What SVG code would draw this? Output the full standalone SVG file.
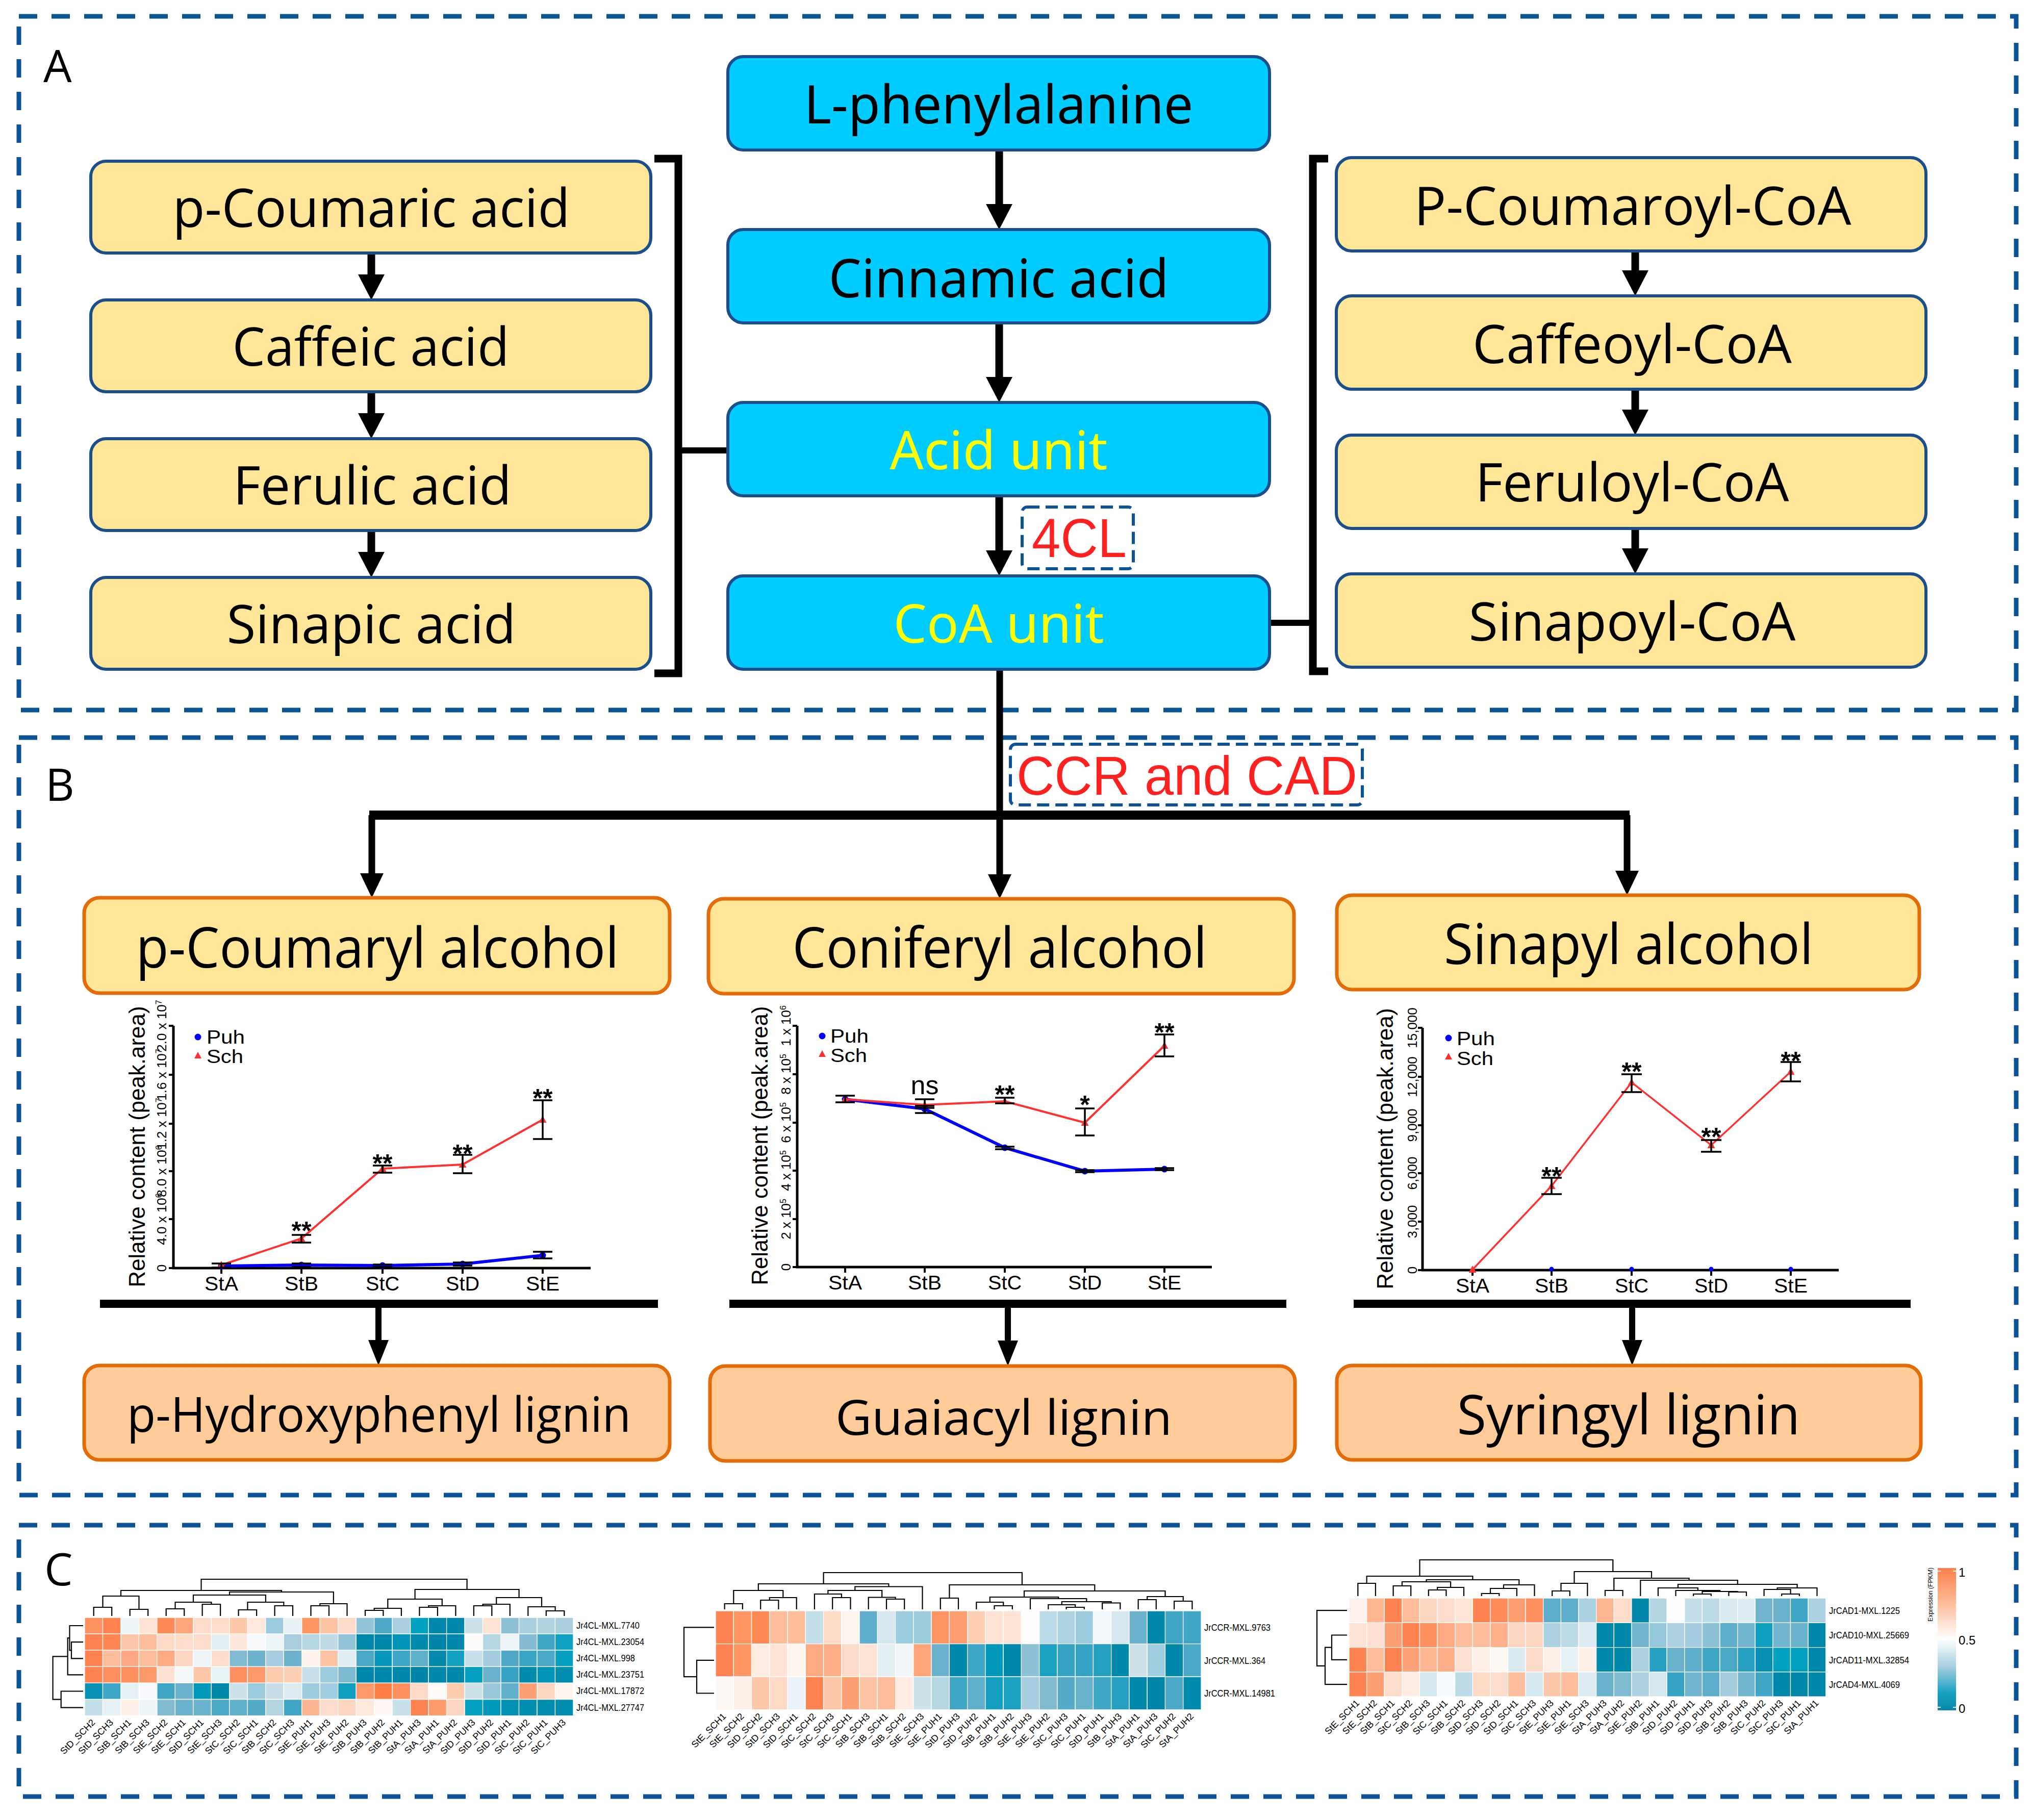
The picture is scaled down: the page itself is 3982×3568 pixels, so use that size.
<svg xmlns="http://www.w3.org/2000/svg" width="3982" height="3568" viewBox="0 0 3982 3568">
<style>
.frame{fill:none;stroke:#0b5394;stroke-width:9;stroke-dasharray:36 28}
.lab{fill:none;stroke:#0b5394;stroke-width:6;stroke-dasharray:24 12}
.yb{fill:#ffe699;stroke:#1a4f8b;stroke-width:6}
.cb{fill:#00ccff;stroke:#1a4f8b;stroke-width:6}
.ob{fill:#ffe699;stroke:#e36c09;stroke-width:7}
.pb{fill:#ffcc99;stroke:#e36c09;stroke-width:7}
.tb{font-family:"Open Sans","DejaVu Sans",sans-serif;text-anchor:middle;fill:#000}
.tc{font-family:"Noto Sans","Open Sans",sans-serif;font-size:104px;text-anchor:middle;fill:#000}
.pl{font-family:"Open Sans",sans-serif;font-size:88px;fill:#000}
.red{font-family:"Liberation Sans",Arial,sans-serif;font-size:108px;text-anchor:middle;fill:#ff2020}
.ln{stroke:#000;fill:none}
.ax{stroke:#000;stroke-width:5;fill:none}
.tk{stroke:#000;stroke-width:4;fill:none}
.eb{stroke:#000;stroke-width:3.5;fill:none}
.sch{stroke:#ff3030;stroke-width:4;fill:none;marker:url(#mTri)}
.puh{stroke:#0000ff;stroke-width:6;fill:none;marker:url(#mDot)}
.xl{font-family:"Liberation Sans",Arial,sans-serif;font-size:38px;text-anchor:middle;fill:#000}
.yl{font-family:"Liberation Sans",Arial,sans-serif;font-size:26px;text-anchor:middle;fill:#000}
.yt{font-family:"Liberation Sans",Arial,sans-serif;font-size:44px;text-anchor:middle;fill:#000}
.lg{font-family:"Liberation Sans",Arial,sans-serif;font-size:37px;fill:#000}
.st{font-family:"Liberation Sans",Arial,sans-serif;font-size:50px;font-weight:bold;text-anchor:middle;fill:#000}
.ns{font-family:"Liberation Sans",Arial,sans-serif;font-size:52px;text-anchor:middle;fill:#000}
.hm rect{stroke:#fff;stroke-width:1.3;vector-effect:non-scaling-stroke}
.dg{stroke:#000;stroke-width:2.2;fill:none}
.rl{font-family:"Liberation Sans",Arial,sans-serif;font-size:18px;fill:#000}
.cl{font-family:"Liberation Sans",Arial,sans-serif;font-size:18px;text-anchor:end;fill:#000}
</style>
<defs>
<marker id="ahA" markerUnits="userSpaceOnUse" viewBox="0 0 50 52" markerWidth="50" markerHeight="52" refX="0" refY="26" orient="auto"><path d="M0,0 L50,26 L0,52 Z" fill="#000"/></marker>
<marker id="ahB" markerUnits="userSpaceOnUse" viewBox="0 0 48 46" markerWidth="48" markerHeight="46" refX="0" refY="23" orient="auto"><path d="M0,0 L48,23 L0,46 Z" fill="#000"/></marker>
<marker id="ahC" markerUnits="userSpaceOnUse" viewBox="0 0 50 40" markerWidth="50" markerHeight="40" refX="0" refY="20" orient="auto"><path d="M0,0 L50,20 L0,40 Z" fill="#000"/></marker>
<marker id="mTri" markerUnits="userSpaceOnUse" viewBox="-9 -9 18 18" markerWidth="18" markerHeight="18" refX="0" refY="0"><path d="M0,-8 L7.5,6 L-7.5,6 Z" fill="#ff3030"/></marker>
<marker id="mDot" markerUnits="userSpaceOnUse" viewBox="-8 -8 16 16" markerWidth="16" markerHeight="16" refX="0" refY="0"><circle r="6.5" fill="#0000ff"/></marker>
<linearGradient id="gCB" x1="0" y1="0" x2="0" y2="1">
<stop offset="0" stop-color="#fe7f4c"/><stop offset="0.25" stop-color="#fdbc9a"/><stop offset="0.5" stop-color="#ffffff"/><stop offset="0.7" stop-color="#a3cddf"/><stop offset="0.88" stop-color="#14a0c0"/><stop offset="1" stop-color="#0a86aa"/>
</linearGradient>
</defs>
<rect width="3982" height="3568" fill="#fff"/>

<g id="frames">
<rect class="frame" x="37" y="32" width="3916" height="1360"/>
<rect class="frame" x="37" y="1446" width="3916" height="1485"/>
<rect class="frame" x="37" y="2990" width="3916" height="532"/>
<text class="pl" x="85" y="161">A</text>
<text class="pl" x="89" y="1570">B</text>
<text class="pl" x="87" y="3108">C</text>
</g>

<g id="connectors">
<line class="ln" x1="1959" y1="294" x2="1959" y2="400" stroke-width="15" marker-end="url(#ahA)"/>
<line class="ln" x1="1959" y1="633" x2="1959" y2="739" stroke-width="15" marker-end="url(#ahA)"/>
<line class="ln" x1="1959" y1="971" x2="1959" y2="1079" stroke-width="15" marker-end="url(#ahA)"/>
<line class="ln" x1="728" y1="496" x2="728" y2="538" stroke-width="15" marker-end="url(#ahA)"/>
<line class="ln" x1="728" y1="768" x2="728" y2="810" stroke-width="15" marker-end="url(#ahA)"/>
<line class="ln" x1="728" y1="1040" x2="728" y2="1082" stroke-width="15" marker-end="url(#ahA)"/>
<line class="ln" x1="3206" y1="492" x2="3206" y2="530" stroke-width="15" marker-end="url(#ahA)"/>
<line class="ln" x1="3206" y1="763" x2="3206" y2="803" stroke-width="15" marker-end="url(#ahA)"/>
<line class="ln" x1="3206" y1="1035" x2="3206" y2="1075" stroke-width="15" marker-end="url(#ahA)"/>
<path class="ln" d="M1283,311 H1330 V1320 H1283" stroke-width="15"/>
<line class="ln" x1="1330" y1="883" x2="1427" y2="883" stroke-width="12"/>
<path class="ln" d="M2604,311 H2574 V1316 H2604" stroke-width="15"/>
<line class="ln" x1="2489" y1="1221" x2="2574" y2="1221" stroke-width="12"/>
<line class="ln" x1="1960" y1="1311" x2="1960" y2="1598" stroke-width="13"/>
<line class="ln" x1="724" y1="1598" x2="3195" y2="1598" stroke-width="18"/>
<line class="ln" x1="729" y1="1598" x2="729" y2="1712" stroke-width="13" marker-end="url(#ahB)"/>
<line class="ln" x1="1960" y1="1598" x2="1960" y2="1714" stroke-width="13" marker-end="url(#ahB)"/>
<line class="ln" x1="3190" y1="1598" x2="3190" y2="1707" stroke-width="13" marker-end="url(#ahB)"/>
<line class="ln" x1="196" y1="2556" x2="1290" y2="2556" stroke-width="16"/>
<line class="ln" x1="1430" y1="2556" x2="2522" y2="2556" stroke-width="16"/>
<line class="ln" x1="2654" y1="2556" x2="3746" y2="2556" stroke-width="16"/>
<line class="ln" x1="742" y1="2564" x2="742" y2="2627" stroke-width="12" marker-end="url(#ahC)"/>
<line class="ln" x1="1976" y1="2564" x2="1976" y2="2628" stroke-width="12" marker-end="url(#ahC)"/>
<line class="ln" x1="3200" y1="2564" x2="3200" y2="2627" stroke-width="12" marker-end="url(#ahC)"/>
</g>

<g id="enzyme-4CL"><rect class="lab" x="2004" y="994" width="218" height="121" rx="10"/><text class="red" x="2116" y="1092" textLength="186" lengthAdjust="spacingAndGlyphs">4CL</text></g>
<g id="enzyme-CCR-CAD"><rect class="lab" x="1981" y="1459" width="690" height="119" rx="10"/><text class="red" x="2327" y="1558" textLength="668" lengthAdjust="spacingAndGlyphs">CCR and CAD</text></g>

<g id="n-phe"><rect class="cb" x="1427" y="111" width="1062" height="183" rx="30"/><text class="tc" x="1958" y="242" textLength="763" lengthAdjust="spacingAndGlyphs">L-phenylalanine</text></g>
<g id="n-cinnamic"><rect class="cb" x="1427" y="450" width="1062" height="183" rx="30"/><text class="tc" x="1958" y="583" textLength="667" lengthAdjust="spacingAndGlyphs">Cinnamic acid</text></g>
<g id="n-acidunit"><rect class="cb" x="1427" y="789" width="1062" height="183" rx="30"/><text class="tc" x="1958" y="920" fill="#ffff00" style="fill:#ffff00" textLength="427" lengthAdjust="spacingAndGlyphs">Acid unit</text></g>
<g id="n-coaunit"><rect class="cb" x="1427" y="1129" width="1062" height="183" rx="30"/><text class="tc" x="1958" y="1260" style="fill:#ffff00" textLength="413" lengthAdjust="spacingAndGlyphs">CoA unit</text></g>

<g id="n-pcoumaric"><rect class="yb" x="178" y="316" width="1098" height="180" rx="30"/><text class="tb" x="728" y="445" font-size="105" textLength="779" lengthAdjust="spacingAndGlyphs">p-Coumaric acid</text></g>
<g id="n-caffeic"><rect class="yb" x="178" y="588" width="1098" height="180" rx="30"/><text class="tb" x="727" y="717" font-size="105" textLength="543" lengthAdjust="spacingAndGlyphs">Caffeic acid</text></g>
<g id="n-ferulic"><rect class="yb" x="178" y="860" width="1098" height="180" rx="30"/><text class="tb" x="730" y="989" font-size="105" textLength="546" lengthAdjust="spacingAndGlyphs">Ferulic acid</text></g>
<g id="n-sinapic"><rect class="yb" x="178" y="1132" width="1098" height="180" rx="30"/><text class="tb" x="728" y="1261" font-size="105" textLength="567" lengthAdjust="spacingAndGlyphs">Sinapic acid</text></g>

<g id="n-pcoumaroyl"><rect class="yb" x="2620" y="309" width="1156" height="183" rx="30"/><text class="tb" x="3201" y="441" font-size="105" textLength="857" lengthAdjust="spacingAndGlyphs">P-Coumaroyl-CoA</text></g>
<g id="n-caffeoyl"><rect class="yb" x="2620" y="580" width="1156" height="183" rx="30"/><text class="tb" x="3200" y="712" font-size="105" textLength="626" lengthAdjust="spacingAndGlyphs">Caffeoyl-CoA</text></g>
<g id="n-feruloyl"><rect class="yb" x="2620" y="853" width="1156" height="183" rx="30"/><text class="tb" x="3200" y="983" font-size="105" textLength="615" lengthAdjust="spacingAndGlyphs">Feruloyl-CoA</text></g>
<g id="n-sinapoyl"><rect class="yb" x="2620" y="1125" width="1156" height="183" rx="30"/><text class="tb" x="3200" y="1256" font-size="105" textLength="641" lengthAdjust="spacingAndGlyphs">Sinapoyl-CoA</text></g>

<g id="n-pcoumaryl-alc"><rect class="ob" x="165" y="1760" width="1148" height="187" rx="30"/><text class="tb" x="740" y="1897" font-size="109" textLength="947" lengthAdjust="spacingAndGlyphs">p-Coumaryl alcohol</text></g>
<g id="n-coniferyl-alc"><rect class="ob" x="1389" y="1762" width="1148" height="186" rx="30"/><text class="tb" x="1960" y="1897" font-size="109" textLength="813" lengthAdjust="spacingAndGlyphs">Coniferyl alcohol</text></g>
<g id="n-sinapyl-alc"><rect class="ob" x="2621" y="1755" width="1142" height="185" rx="30"/><text class="tb" x="3193" y="1890" font-size="109" textLength="724" lengthAdjust="spacingAndGlyphs">Sinapyl alcohol</text></g>

<g id="n-h-lignin"><rect class="pb" x="165" y="2677" width="1148" height="185" rx="30"/><text class="tb" x="743" y="2807" font-size="95" textLength="988" lengthAdjust="spacingAndGlyphs">p-Hydroxyphenyl lignin</text></g>
<g id="n-g-lignin"><rect class="pb" x="1392" y="2678" width="1147" height="186" rx="30"/><text class="tb" x="1968" y="2813" font-size="95" textLength="660" lengthAdjust="spacingAndGlyphs">Guaiacyl lignin</text></g>
<g id="n-s-lignin"><rect class="pb" x="2621" y="2677" width="1145" height="185" rx="30"/><text class="tb" x="3193" y="2812" font-size="108" textLength="673" lengthAdjust="spacingAndGlyphs">Syringyl lignin</text></g>

<!-- Chart 1 -->
<g id="chart1">
<path class="ax" d="M340,2011 V2486 H1158"/>
<path class="tk" d="M331,2011H340M331,2107H340M331,2203H340M331,2296H340M331,2390H340M331,2486H340M434,2486V2497M591,2486V2497M750,2486V2497M907,2486V2497M1064,2486V2497"/>
<text class="yl" transform="translate(326,2486) rotate(-90)">0</text>
<text class="yl" transform="translate(326,2390) rotate(-90)">4.0 x 10<tspan dy="-9" font-size="16">6</tspan></text>
<text class="yl" transform="translate(326,2296) rotate(-90)">8.0 x 10<tspan dy="-9" font-size="16">6</tspan></text>
<text class="yl" transform="translate(326,2203) rotate(-90)">1.2 x 10<tspan dy="-9" font-size="16">7</tspan></text>
<text class="yl" transform="translate(326,2107) rotate(-90)">1.6 x 10<tspan dy="-9" font-size="16">7</tspan></text>
<text class="yl" transform="translate(326,2011) rotate(-90)">2.0 x 10<tspan dy="-9" font-size="16">7</tspan></text>
<text class="yt" transform="translate(284,2248) rotate(-90)" textLength="551" lengthAdjust="spacingAndGlyphs">Relative content (peak.area)</text>
<text class="xl" x="434" y="2530" textLength="66" lengthAdjust="spacingAndGlyphs">StA</text>
<text class="xl" x="591" y="2530" textLength="66" lengthAdjust="spacingAndGlyphs">StB</text>
<text class="xl" x="750" y="2530" textLength="66" lengthAdjust="spacingAndGlyphs">StC</text>
<text class="xl" x="907" y="2530" textLength="66" lengthAdjust="spacingAndGlyphs">StD</text>
<text class="xl" x="1064" y="2530" textLength="66" lengthAdjust="spacingAndGlyphs">StE</text>
<circle cx="388" cy="2033" r="6.5" fill="#0000ff"/><text class="lg" x="405" y="2046" textLength="75" lengthAdjust="spacingAndGlyphs">Puh</text>
<path d="M388,2062 L395,2075 L381,2075 Z" fill="#ff3030"/><text class="lg" x="405" y="2084" textLength="72" lengthAdjust="spacingAndGlyphs">Sch</text>
<polyline class="puh" points="434,2482 591,2480 750,2481 907,2478 1064,2461"/>
<polyline class="sch" points="434,2480 591,2428 750,2291 907,2283 1064,2195"/>
<path class="eb" d="M415,2477H453M434,2477V2485M415,2485H453 M572,2421H610M591,2421V2436M572,2436H610 M731,2285H769M750,2285V2299M731,2299H769 M888,2264H926M907,2264V2300M888,2300H926 M1045,2157H1083M1064,2157V2233M1045,2233H1083 M572,2477H610M572,2484H610 M731,2479H769M731,2484H769 M888,2475H926M888,2481H926 M1045,2454H1083M1064,2454V2467M1045,2467H1083"/>
<text class="st" x="591" y="2430">**</text>
<text class="st" x="750" y="2298">**</text>
<text class="st" x="907" y="2279">**</text>
<text class="st" x="1064" y="2170">**</text>
</g>

<!-- Chart 2 -->
<g id="chart2">
<path class="ax" d="M1563,2011 V2484 H2376"/>
<path class="tk" d="M1554,2011H1563M1554,2106H1563M1554,2201H1563M1554,2295H1563M1554,2390H1563M1554,2484H1563M1657,2484V2495M1813,2484V2495M1970,2484V2495M2127,2484V2495M2283,2484V2495"/>
<text class="yl" transform="translate(1550,2484) rotate(-90)">0</text>
<text class="yl" transform="translate(1550,2390) rotate(-90)">2 x 10<tspan dy="-9" font-size="16">5</tspan></text>
<text class="yl" transform="translate(1550,2295) rotate(-90)">4 x 10<tspan dy="-9" font-size="16">5</tspan></text>
<text class="yl" transform="translate(1550,2201) rotate(-90)">6 x 10<tspan dy="-9" font-size="16">5</tspan></text>
<text class="yl" transform="translate(1550,2106) rotate(-90)">8 x 10<tspan dy="-9" font-size="16">5</tspan></text>
<text class="yl" transform="translate(1550,2011) rotate(-90)">1 x 10<tspan dy="-9" font-size="16">6</tspan></text>
<text class="yt" transform="translate(1505,2246) rotate(-90)" textLength="547" lengthAdjust="spacingAndGlyphs">Relative content (peak.area)</text>
<text class="xl" x="1657" y="2528" textLength="66" lengthAdjust="spacingAndGlyphs">StA</text>
<text class="xl" x="1813" y="2528" textLength="66" lengthAdjust="spacingAndGlyphs">StB</text>
<text class="xl" x="1970" y="2528" textLength="66" lengthAdjust="spacingAndGlyphs">StC</text>
<text class="xl" x="2127" y="2528" textLength="66" lengthAdjust="spacingAndGlyphs">StD</text>
<text class="xl" x="2283" y="2528" textLength="66" lengthAdjust="spacingAndGlyphs">StE</text>
<circle cx="1612" cy="2031" r="6.5" fill="#0000ff"/><text class="lg" x="1628" y="2044" textLength="75" lengthAdjust="spacingAndGlyphs">Puh</text>
<path d="M1612,2059 L1619,2072 L1605,2072 Z" fill="#ff3030"/><text class="lg" x="1628" y="2082" textLength="72" lengthAdjust="spacingAndGlyphs">Sch</text>
<polyline class="puh" points="1657,2155 1813,2174 1970,2250 2127,2296 2283,2292"/>
<polyline class="sch" points="1657,2155 1813,2166 1970,2159 2127,2201 2283,2050"/>
<path class="eb" d="M1638,2148H1676M1657,2148V2161M1638,2161H1676 M1794,2155H1832M1813,2155V2182M1794,2168H1832M1794,2172H1832M1794,2182H1832 M1951,2152H1989M1970,2152V2163M1951,2163H1989 M1951,2248H1989M1951,2253H1989 M2108,2173H2146M2127,2173V2226M2108,2226H2146 M2108,2294H2146M2108,2298H2146 M2264,2028H2302M2283,2028V2071M2264,2071H2302 M2264,2290H2302M2264,2294H2302"/>
<text class="ns" x="1813" y="2145">ns</text>
<text class="st" x="1970" y="2163">**</text>
<text class="st" x="2127" y="2183">*</text>
<text class="st" x="2283" y="2041">**</text>
</g>

<!-- Chart 3 -->
<g id="chart3">
<path class="ax" d="M2789,2015 V2490 H3605"/>
<path class="tk" d="M2780,2015H2789M2780,2111H2789M2780,2206H2789M2780,2300H2789M2780,2395H2789M2780,2490H2789M2887,2490V2501M3042,2490V2501M3199,2490V2501M3355,2490V2501M3511,2490V2501"/>
<text class="yl" transform="translate(2778,2490) rotate(-90)">0</text>
<text class="yl" transform="translate(2778,2395) rotate(-90)">3,000</text>
<text class="yl" transform="translate(2778,2300) rotate(-90)">6,000</text>
<text class="yl" transform="translate(2778,2206) rotate(-90)">9,000</text>
<text class="yl" transform="translate(2778,2111) rotate(-90)">12,000</text>
<text class="yl" transform="translate(2778,2015) rotate(-90)">15,000</text>
<text class="yt" transform="translate(2731,2252) rotate(-90)" textLength="551" lengthAdjust="spacingAndGlyphs">Relative content (peak.area)</text>
<text class="xl" x="2887" y="2534" textLength="66" lengthAdjust="spacingAndGlyphs">StA</text>
<text class="xl" x="3042" y="2534" textLength="66" lengthAdjust="spacingAndGlyphs">StB</text>
<text class="xl" x="3199" y="2534" textLength="66" lengthAdjust="spacingAndGlyphs">StC</text>
<text class="xl" x="3355" y="2534" textLength="66" lengthAdjust="spacingAndGlyphs">StD</text>
<text class="xl" x="3511" y="2534" textLength="66" lengthAdjust="spacingAndGlyphs">StE</text>
<circle cx="2840" cy="2035" r="6.5" fill="#0000ff"/><text class="lg" x="2856" y="2049" textLength="75" lengthAdjust="spacingAndGlyphs">Puh</text>
<path d="M2840,2064 L2847,2077 L2833,2077 Z" fill="#ff3030"/><text class="lg" x="2856" y="2088" textLength="72" lengthAdjust="spacingAndGlyphs">Sch</text>
<g fill="#0000ff"><circle cx="3042" cy="2488" r="4.5"/><circle cx="3199" cy="2488" r="4.5"/><circle cx="3355" cy="2488" r="4.5"/><circle cx="3511" cy="2488" r="4.5"/></g>
<polyline class="sch" style="stroke-width:3.5" points="2887,2489 3042,2325 3199,2122 3355,2245 3511,2101"/>
<path class="eb" d="M3022,2309H3062M3042,2309V2341M3022,2341H3062 M3179,2106H3219M3199,2106V2141M3179,2141H3219 M3335,2235H3375M3355,2235V2258M3335,2258H3375 M3491,2082H3531M3511,2082V2120M3491,2120H3531"/>
<text class="st" x="3042" y="2323">**</text>
<text class="st" x="3199" y="2118">**</text>
<text class="st" x="3355" y="2246">**</text>
<text class="st" x="3511" y="2097">**</text>
</g>

<!-- Heatmap 1 -->
<g id="heatmap-4CL">
<g class="hm" transform="translate(166,3171) scale(35.48,32.1)">
<rect x="0" y="0" width="1" height="1" fill="#fe9260"/><rect x="1" y="0" width="1" height="1" fill="#fe8350"/><rect x="2" y="0" width="1" height="1" fill="#eef5f8"/><rect x="3" y="0" width="1" height="1" fill="#fee3d5"/><rect x="4" y="0" width="1" height="1" fill="#fe8a58"/><rect x="5" y="0" width="1" height="1" fill="#fda67c"/><rect x="6" y="0" width="1" height="1" fill="#fedccb"/><rect x="7" y="0" width="1" height="1" fill="#fedccb"/><rect x="8" y="0" width="1" height="1" fill="#fdc8aa"/><rect x="9" y="0" width="1" height="1" fill="#fee8dc"/><rect x="10" y="0" width="1" height="1" fill="#9ccbde"/><rect x="11" y="0" width="1" height="1" fill="#e8f2f6"/><rect x="12" y="0" width="1" height="1" fill="#fe9563"/><rect x="13" y="0" width="1" height="1" fill="#fdc3a5"/><rect x="14" y="0" width="1" height="1" fill="#fddbc9"/><rect x="15" y="0" width="1" height="1" fill="#93c4d9"/><rect x="16" y="0" width="1" height="1" fill="#4fa9c6"/><rect x="17" y="0" width="1" height="1" fill="#a9cfdf"/><rect x="18" y="0" width="1" height="1" fill="#00a0c0"/><rect x="19" y="0" width="1" height="1" fill="#0087ab"/><rect x="20" y="0" width="1" height="1" fill="#0088ab"/><rect x="21" y="0" width="1" height="1" fill="#cde3ec"/><rect x="22" y="0" width="1" height="1" fill="#fee3d5"/><rect x="23" y="0" width="1" height="1" fill="#8fc1d6"/><rect x="24" y="0" width="1" height="1" fill="#a9d0df"/><rect x="25" y="0" width="1" height="1" fill="#b0d4e2"/><rect x="26" y="0" width="1" height="1" fill="#a9cfdf"/>
<rect x="0" y="1" width="1" height="1" fill="#fe8350"/><rect x="1" y="1" width="1" height="1" fill="#fe8754"/><rect x="2" y="1" width="1" height="1" fill="#fdc8aa"/><rect x="3" y="1" width="1" height="1" fill="#fdbd9b"/><rect x="4" y="1" width="1" height="1" fill="#fed9c6"/><rect x="5" y="1" width="1" height="1" fill="#fedccb"/><rect x="6" y="1" width="1" height="1" fill="#fedccb"/><rect x="7" y="1" width="1" height="1" fill="#e4eff4"/><rect x="8" y="1" width="1" height="1" fill="#fee6da"/><rect x="9" y="1" width="1" height="1" fill="#f8fafc"/><rect x="10" y="1" width="1" height="1" fill="#eef5f8"/><rect x="11" y="1" width="1" height="1" fill="#a9cfdf"/><rect x="12" y="1" width="1" height="1" fill="#b5d6e3"/><rect x="13" y="1" width="1" height="1" fill="#bedbe6"/><rect x="14" y="1" width="1" height="1" fill="#93c4d9"/><rect x="15" y="1" width="1" height="1" fill="#0088ab"/><rect x="16" y="1" width="1" height="1" fill="#0087ab"/><rect x="17" y="1" width="1" height="1" fill="#0095b8"/><rect x="18" y="1" width="1" height="1" fill="#0089ac"/><rect x="19" y="1" width="1" height="1" fill="#0085a9"/><rect x="20" y="1" width="1" height="1" fill="#0087ab"/><rect x="21" y="1" width="1" height="1" fill="#fefcfa"/><rect x="22" y="1" width="1" height="1" fill="#b5d6e3"/><rect x="23" y="1" width="1" height="1" fill="#eef5f8"/><rect x="24" y="1" width="1" height="1" fill="#86bcd3"/><rect x="25" y="1" width="1" height="1" fill="#40a6c5"/><rect x="26" y="1" width="1" height="1" fill="#0fa0c2"/>
<rect x="0" y="2" width="1" height="1" fill="#fe8350"/><rect x="1" y="2" width="1" height="1" fill="#fdbe9d"/><rect x="2" y="2" width="1" height="1" fill="#fda880"/><rect x="3" y="2" width="1" height="1" fill="#fdbd9b"/><rect x="4" y="2" width="1" height="1" fill="#fdaa82"/><rect x="5" y="2" width="1" height="1" fill="#fed5c0"/><rect x="6" y="2" width="1" height="1" fill="#eef4f8"/><rect x="7" y="2" width="1" height="1" fill="#fedccb"/><rect x="8" y="2" width="1" height="1" fill="#80bbd2"/><rect x="9" y="2" width="1" height="1" fill="#6cb2cd"/><rect x="10" y="2" width="1" height="1" fill="#a6cee0"/><rect x="11" y="2" width="1" height="1" fill="#6cb2cd"/><rect x="12" y="2" width="1" height="1" fill="#fef3ec"/><rect x="13" y="2" width="1" height="1" fill="#fdc3a5"/><rect x="14" y="2" width="1" height="1" fill="#e0eef4"/><rect x="15" y="2" width="1" height="1" fill="#4aa7c6"/><rect x="16" y="2" width="1" height="1" fill="#0898bb"/><rect x="17" y="2" width="1" height="1" fill="#40a6c5"/><rect x="18" y="2" width="1" height="1" fill="#5fafcb"/><rect x="19" y="2" width="1" height="1" fill="#0588ac"/><rect x="20" y="2" width="1" height="1" fill="#14a0c0"/><rect x="21" y="2" width="1" height="1" fill="#c7e1eb"/><rect x="22" y="2" width="1" height="1" fill="#a3cddf"/><rect x="23" y="2" width="1" height="1" fill="#4ea8c6"/><rect x="24" y="2" width="1" height="1" fill="#3aa4c4"/><rect x="25" y="2" width="1" height="1" fill="#4aa7c6"/><rect x="26" y="2" width="1" height="1" fill="#05a0c0"/>
<rect x="0" y="3" width="1" height="1" fill="#fe8350"/><rect x="1" y="3" width="1" height="1" fill="#fe8f5e"/><rect x="2" y="3" width="1" height="1" fill="#fe8f5e"/><rect x="3" y="3" width="1" height="1" fill="#fd9868"/><rect x="4" y="3" width="1" height="1" fill="#fee0d2"/><rect x="5" y="3" width="1" height="1" fill="#f2f8f9"/><rect x="6" y="3" width="1" height="1" fill="#fdc8aa"/><rect x="7" y="3" width="1" height="1" fill="#e8f3f5"/><rect x="8" y="3" width="1" height="1" fill="#fe8f5e"/><rect x="9" y="3" width="1" height="1" fill="#fd9868"/><rect x="10" y="3" width="1" height="1" fill="#fdcbae"/><rect x="11" y="3" width="1" height="1" fill="#fdcfb3"/><rect x="12" y="3" width="1" height="1" fill="#c8e0ea"/><rect x="13" y="3" width="1" height="1" fill="#9ccbde"/><rect x="14" y="3" width="1" height="1" fill="#7dbad2"/><rect x="15" y="3" width="1" height="1" fill="#0088ab"/><rect x="16" y="3" width="1" height="1" fill="#0088ab"/><rect x="17" y="3" width="1" height="1" fill="#0088ab"/><rect x="18" y="3" width="1" height="1" fill="#0085a9"/><rect x="19" y="3" width="1" height="1" fill="#0088ab"/><rect x="20" y="3" width="1" height="1" fill="#0088ab"/><rect x="21" y="3" width="1" height="1" fill="#05a0c0"/><rect x="22" y="3" width="1" height="1" fill="#6ab1cb"/><rect x="23" y="3" width="1" height="1" fill="#35a3c3"/><rect x="24" y="3" width="1" height="1" fill="#008bad"/><rect x="25" y="3" width="1" height="1" fill="#0095b8"/><rect x="26" y="3" width="1" height="1" fill="#008dae"/>
<rect x="0" y="4" width="1" height="1" fill="#0791b4"/><rect x="1" y="4" width="1" height="1" fill="#40a6c5"/><rect x="2" y="4" width="1" height="1" fill="#e6f1f5"/><rect x="3" y="4" width="1" height="1" fill="#f8fafd"/><rect x="4" y="4" width="1" height="1" fill="#40a6c5"/><rect x="5" y="4" width="1" height="1" fill="#6ab1cb"/><rect x="6" y="4" width="1" height="1" fill="#0099bb"/><rect x="7" y="4" width="1" height="1" fill="#0088ab"/><rect x="8" y="4" width="1" height="1" fill="#cde3ec"/><rect x="9" y="4" width="1" height="1" fill="#9ccbde"/><rect x="10" y="4" width="1" height="1" fill="#c7deea"/><rect x="11" y="4" width="1" height="1" fill="#dcecf2"/><rect x="12" y="4" width="1" height="1" fill="#9ccbde"/><rect x="13" y="4" width="1" height="1" fill="#a0cddf"/><rect x="14" y="4" width="1" height="1" fill="#0f9dbf"/><rect x="15" y="4" width="1" height="1" fill="#fd9868"/><rect x="16" y="4" width="1" height="1" fill="#fe7f45"/><rect x="17" y="4" width="1" height="1" fill="#fe8f5e"/><rect x="18" y="4" width="1" height="1" fill="#fed9c6"/><rect x="19" y="4" width="1" height="1" fill="#fefaf7"/><rect x="20" y="4" width="1" height="1" fill="#fdcbae"/><rect x="21" y="4" width="1" height="1" fill="#cde3ec"/><rect x="22" y="4" width="1" height="1" fill="#98c7da"/><rect x="23" y="4" width="1" height="1" fill="#5fafcb"/><rect x="24" y="4" width="1" height="1" fill="#fda074"/><rect x="25" y="4" width="1" height="1" fill="#fed5c0"/><rect x="26" y="4" width="1" height="1" fill="#fef5ef"/>
<rect x="0" y="5" width="1" height="1" fill="#c2dfea"/><rect x="1" y="5" width="1" height="1" fill="#e6f1f5"/><rect x="2" y="5" width="1" height="1" fill="#feefe8"/><rect x="3" y="5" width="1" height="1" fill="#eef5f8"/><rect x="4" y="5" width="1" height="1" fill="#80bbd2"/><rect x="5" y="5" width="1" height="1" fill="#6ab1cb"/><rect x="6" y="5" width="1" height="1" fill="#6ab1cb"/><rect x="7" y="5" width="1" height="1" fill="#4aa7c6"/><rect x="8" y="5" width="1" height="1" fill="#60afcb"/><rect x="9" y="5" width="1" height="1" fill="#56abc8"/><rect x="10" y="5" width="1" height="1" fill="#b3d5e2"/><rect x="11" y="5" width="1" height="1" fill="#40a6c5"/><rect x="12" y="5" width="1" height="1" fill="#fdb491"/><rect x="13" y="5" width="1" height="1" fill="#fedccb"/><rect x="14" y="5" width="1" height="1" fill="#fed5c0"/><rect x="15" y="5" width="1" height="1" fill="#fee8dc"/><rect x="16" y="5" width="1" height="1" fill="#fef7f3"/><rect x="17" y="5" width="1" height="1" fill="#c8e0ea"/><rect x="18" y="5" width="1" height="1" fill="#fe8350"/><rect x="19" y="5" width="1" height="1" fill="#fe9b6c"/><rect x="20" y="5" width="1" height="1" fill="#fed5c0"/><rect x="21" y="5" width="1" height="1" fill="#05a0c0"/><rect x="22" y="5" width="1" height="1" fill="#0099bb"/><rect x="23" y="5" width="1" height="1" fill="#0090b2"/><rect x="24" y="5" width="1" height="1" fill="#008dae"/><rect x="25" y="5" width="1" height="1" fill="#008dae"/><rect x="26" y="5" width="1" height="1" fill="#008dae"/>
</g>
<path class="dg" d="M183.7,3168V3151H219.2V3168 M254.7,3168V3155H290.2V3168 M201.5,3151V3129H272.5V3155 M325.7,3168V3154H361.2V3168 M396.6,3168V3145H432.1V3168 M343.5,3154V3141H414.4V3145 M467.6,3168V3156H503.1V3168 M538.6,3168V3148H574V3168 M485.4,3156V3141H556.3V3148 M379,3141V3127H520.9V3141 M609.5,3168V3148H645V3168 M627.3,3148V3144H680.5V3168 M450,3127V3121H653.9V3144 M237,3129V3118H552V3121 M716,3168V3157H751.4V3168 M733.7,3157V3153H786.9V3168 M822.4,3168V3151H857.9V3168 M840.2,3151V3148H893.4V3168 M760.3,3153V3135H866.8V3148 M928.9,3168V3148H964.3V3168 M946.6,3148V3145H999.8V3168 M1070.8,3168V3158H1106.3V3168 M1035.3,3168V3150H1088.6V3158 M973.2,3145V3132H1062V3150 M813.6,3135V3116H1017.6V3132 M394.5,3118V3096H915.6V3116"/>
<path class="dg" d="M163,3219.2H140V3251.3H163 M163,3187H136.5V3235.3H140 M136.5,3211.1H132.7V3283.4H163 M163,3315.5H119.7V3347.6H163 M132.7,3247.3H103.6V3331.6H119.7"/>
<text class="rl" x="1130" y="3193" textLength="124" lengthAdjust="spacingAndGlyphs">Jr4CL-MXL.7740</text>
<text class="rl" x="1130" y="3225" textLength="133" lengthAdjust="spacingAndGlyphs">Jr4CL-MXL.23054</text>
<text class="rl" x="1130" y="3257" textLength="115" lengthAdjust="spacingAndGlyphs">Jr4CL-MXL.998</text>
<text class="rl" x="1130" y="3289" textLength="133" lengthAdjust="spacingAndGlyphs">Jr4CL-MXL.23751</text>
<text class="rl" x="1130" y="3321" textLength="133" lengthAdjust="spacingAndGlyphs">Jr4CL-MXL.17872</text>
<text class="rl" x="1130" y="3354" textLength="133" lengthAdjust="spacingAndGlyphs">Jr4CL-MXL.27747</text>
<g class="cl">
<text transform="translate(187.7,3378) rotate(-45)">StD_SCH2</text><text transform="translate(223.2,3378) rotate(-45)">StD_SCH3</text><text transform="translate(258.7,3378) rotate(-45)">StB_SCH1</text><text transform="translate(294.2,3378) rotate(-45)">StB_SCH3</text><text transform="translate(329.7,3378) rotate(-45)">StE_SCH2</text><text transform="translate(365.2,3378) rotate(-45)">StE_SCH1</text><text transform="translate(400.6,3378) rotate(-45)">StD_SCH1</text><text transform="translate(436.1,3378) rotate(-45)">StE_SCH3</text><text transform="translate(471.6,3378) rotate(-45)">StC_SCH2</text><text transform="translate(507.1,3378) rotate(-45)">StC_SCH1</text><text transform="translate(542.6,3378) rotate(-45)">StB_SCH2</text><text transform="translate(578,3378) rotate(-45)">StC_SCH3</text><text transform="translate(613.5,3378) rotate(-45)">StE_PUH1</text><text transform="translate(649,3378) rotate(-45)">StE_PUH3</text><text transform="translate(684.5,3378) rotate(-45)">StE_PUH2</text><text transform="translate(720,3378) rotate(-45)">StB_PUH3</text><text transform="translate(755.4,3378) rotate(-45)">StB_PUH2</text><text transform="translate(790.9,3378) rotate(-45)">StB_PUH1</text><text transform="translate(826.4,3378) rotate(-45)">StA_PUH3</text><text transform="translate(861.9,3378) rotate(-45)">StA_PUH1</text><text transform="translate(897.4,3378) rotate(-45)">StA_PUH2</text><text transform="translate(932.9,3378) rotate(-45)">StD_PUH3</text><text transform="translate(968.3,3378) rotate(-45)">StD_PUH2</text><text transform="translate(1003.8,3378) rotate(-45)">StD_PUH1</text><text transform="translate(1039.3,3378) rotate(-45)">StC_PUH2</text><text transform="translate(1074.8,3378) rotate(-45)">StC_PUH1</text><text transform="translate(1110.3,3378) rotate(-45)">StC_PUH3</text>
</g>
</g>

<!-- Heatmap 2 -->
<g id="heatmap-CCR">
<g class="hm" transform="translate(1403,3158) scale(35.26,64.6)">
<rect x="0" y="0" width="1" height="1" fill="#fe8350"/><rect x="1" y="0" width="1" height="1" fill="#fe9563"/><rect x="2" y="0" width="1" height="1" fill="#fe8a56"/><rect x="3" y="0" width="1" height="1" fill="#fdbd9b"/><rect x="4" y="0" width="1" height="1" fill="#fdbd9b"/><rect x="5" y="0" width="1" height="1" fill="#c2dfea"/><rect x="6" y="0" width="1" height="1" fill="#fdd9c6"/><rect x="7" y="0" width="1" height="1" fill="#fef5ef"/><rect x="8" y="0" width="1" height="1" fill="#5eaecb"/><rect x="9" y="0" width="1" height="1" fill="#d5e8f0"/><rect x="10" y="0" width="1" height="1" fill="#9ccbde"/><rect x="11" y="0" width="1" height="1" fill="#9ccbde"/><rect x="12" y="0" width="1" height="1" fill="#fe9563"/><rect x="13" y="0" width="1" height="1" fill="#fe9e70"/><rect x="14" y="0" width="1" height="1" fill="#fdcfb3"/><rect x="15" y="0" width="1" height="1" fill="#fee3d5"/><rect x="16" y="0" width="1" height="1" fill="#fee3d5"/><rect x="17" y="0" width="1" height="1" fill="#fdfdfd"/><rect x="18" y="0" width="1" height="1" fill="#bcdbe6"/><rect x="19" y="0" width="1" height="1" fill="#add2e1"/><rect x="20" y="0" width="1" height="1" fill="#9ccbde"/><rect x="21" y="0" width="1" height="1" fill="#f1f7fa"/><rect x="22" y="0" width="1" height="1" fill="#d5e8f0"/><rect x="23" y="0" width="1" height="1" fill="#6cb2cd"/><rect x="24" y="0" width="1" height="1" fill="#0088ab"/><rect x="25" y="0" width="1" height="1" fill="#40a6c5"/><rect x="26" y="0" width="1" height="1" fill="#40a6c5"/>
<rect x="0" y="1" width="1" height="1" fill="#fe8350"/><rect x="1" y="1" width="1" height="1" fill="#fe9563"/><rect x="2" y="1" width="1" height="1" fill="#feebe1"/><rect x="3" y="1" width="1" height="1" fill="#fee3d5"/><rect x="4" y="1" width="1" height="1" fill="#fef5ef"/><rect x="5" y="1" width="1" height="1" fill="#fdaa82"/><rect x="6" y="1" width="1" height="1" fill="#fdaf88"/><rect x="7" y="1" width="1" height="1" fill="#fddbc9"/><rect x="8" y="1" width="1" height="1" fill="#fee3d5"/><rect x="9" y="1" width="1" height="1" fill="#e4eff4"/><rect x="10" y="1" width="1" height="1" fill="#f1f6f9"/><rect x="11" y="1" width="1" height="1" fill="#fda47a"/><rect x="12" y="1" width="1" height="1" fill="#6ab1cb"/><rect x="13" y="1" width="1" height="1" fill="#0088ab"/><rect x="14" y="1" width="1" height="1" fill="#40a6c5"/><rect x="15" y="1" width="1" height="1" fill="#0097b9"/><rect x="16" y="1" width="1" height="1" fill="#0087ab"/><rect x="17" y="1" width="1" height="1" fill="#8dc2d6"/><rect x="18" y="1" width="1" height="1" fill="#1ca1c3"/><rect x="19" y="1" width="1" height="1" fill="#35a3c3"/><rect x="20" y="1" width="1" height="1" fill="#35a3c3"/><rect x="21" y="1" width="1" height="1" fill="#25a0c0"/><rect x="22" y="1" width="1" height="1" fill="#0088ab"/><rect x="23" y="1" width="1" height="1" fill="#cde3ec"/><rect x="24" y="1" width="1" height="1" fill="#a0cddf"/><rect x="25" y="1" width="1" height="1" fill="#0088ab"/><rect x="26" y="1" width="1" height="1" fill="#4aa7c6"/>
<rect x="0" y="2" width="1" height="1" fill="#fef8f5"/><rect x="1" y="2" width="1" height="1" fill="#feefe8"/><rect x="2" y="2" width="1" height="1" fill="#fdc8aa"/><rect x="3" y="2" width="1" height="1" fill="#fdd9c6"/><rect x="4" y="2" width="1" height="1" fill="#ecf3f8"/><rect x="5" y="2" width="1" height="1" fill="#fe8350"/><rect x="6" y="2" width="1" height="1" fill="#fdc8aa"/><rect x="7" y="2" width="1" height="1" fill="#fda074"/><rect x="8" y="2" width="1" height="1" fill="#fdc3a5"/><rect x="9" y="2" width="1" height="1" fill="#fdbc9a"/><rect x="10" y="2" width="1" height="1" fill="#feebe1"/><rect x="11" y="2" width="1" height="1" fill="#cde3ec"/><rect x="12" y="2" width="1" height="1" fill="#b5d6e3"/><rect x="13" y="2" width="1" height="1" fill="#40a6c5"/><rect x="14" y="2" width="1" height="1" fill="#60afcb"/><rect x="15" y="2" width="1" height="1" fill="#149fc0"/><rect x="16" y="2" width="1" height="1" fill="#1ca1c3"/><rect x="17" y="2" width="1" height="1" fill="#a6cee0"/><rect x="18" y="2" width="1" height="1" fill="#80bbd2"/><rect x="19" y="2" width="1" height="1" fill="#56abc8"/><rect x="20" y="2" width="1" height="1" fill="#6ab1cb"/><rect x="21" y="2" width="1" height="1" fill="#40a6c5"/><rect x="22" y="2" width="1" height="1" fill="#25a0c0"/><rect x="23" y="2" width="1" height="1" fill="#0088ab"/><rect x="24" y="2" width="1" height="1" fill="#0085a9"/><rect x="25" y="2" width="1" height="1" fill="#4aa7c6"/><rect x="26" y="2" width="1" height="1" fill="#008bad"/>
</g>
<path class="dg" d="M1420.6,3155V3144H1455.9V3155 M1491.2,3155V3137H1526.4V3155 M1508.8,3137V3132H1561.7V3155 M1438.3,3144V3118H1535.3V3132 M1632.2,3155V3132H1667.5V3155 M1596.9,3155V3125H1649.9V3132 M1738,3155V3135H1773.2V3155 M1702.7,3155V3131.5H1755.6V3135 M1623.4,3125V3118H1729.2V3131.5 M1676.3,3118V3110.5H1808.5V3155 M1486.8,3118V3105H1742.4V3110.5 M1843.8,3155V3133H1879V3155 M1949.5,3155V3148H1984.8V3155 M1914.3,3155V3141H1967.2V3148 M2090.6,3155V3151H2125.8V3155 M2055.3,3155V3146H2108.2V3151 M2161.1,3155V3142.5H2196.3V3155 M2081.8,3146V3140H2178.7V3142.5 M2020,3155V3134H2130.3V3140 M1940.8,3141V3131H2075.2V3134 M2231.6,3155V3136H2266.8V3155 M2302.1,3155V3139H2337.4V3155 M2249.2,3136V3130H2319.8V3139 M2008,3131V3119H2284.5V3130 M1861.4,3133V3107H2146.3V3119 M1614.6,3105V3083H2003.9V3107"/>
<path class="dg" d="M1400,3254.9H1366V3319.5H1400 M1400,3190.3H1341V3287.2H1366"/>
<text class="rl" x="2361" y="3197" textLength="130" lengthAdjust="spacingAndGlyphs">JrCCR-MXL.9763</text>
<text class="rl" x="2361" y="3262" textLength="120" lengthAdjust="spacingAndGlyphs">JrCCR-MXL.364</text>
<text class="rl" x="2361" y="3326" textLength="139" lengthAdjust="spacingAndGlyphs">JrCCR-MXL.14981</text>
<g class="cl">
<text transform="translate(1424.6,3366) rotate(-45)">StE_SCH1</text><text transform="translate(1459.9,3366) rotate(-45)">StE_SCH2</text><text transform="translate(1495.2,3366) rotate(-45)">StD_SCH2</text><text transform="translate(1530.4,3366) rotate(-45)">StD_SCH3</text><text transform="translate(1565.7,3366) rotate(-45)">StD_SCH1</text><text transform="translate(1600.9,3366) rotate(-45)">StC_SCH2</text><text transform="translate(1636.2,3366) rotate(-45)">StC_SCH3</text><text transform="translate(1671.5,3366) rotate(-45)">StC_SCH1</text><text transform="translate(1706.7,3366) rotate(-45)">StB_SCH3</text><text transform="translate(1742,3366) rotate(-45)">StB_SCH1</text><text transform="translate(1777.2,3366) rotate(-45)">StB_SCH2</text><text transform="translate(1812.5,3366) rotate(-45)">StE_SCH3</text><text transform="translate(1847.8,3366) rotate(-45)">StE_PUH1</text><text transform="translate(1883,3366) rotate(-45)">StD_PUH3</text><text transform="translate(1918.3,3366) rotate(-45)">StD_PUH2</text><text transform="translate(1953.5,3366) rotate(-45)">StB_PUH1</text><text transform="translate(1988.8,3366) rotate(-45)">StB_PUH2</text><text transform="translate(2024,3366) rotate(-45)">StE_PUH3</text><text transform="translate(2059.3,3366) rotate(-45)">StE_PUH2</text><text transform="translate(2094.6,3366) rotate(-45)">StC_PUH3</text><text transform="translate(2129.8,3366) rotate(-45)">StC_PUH1</text><text transform="translate(2165.1,3366) rotate(-45)">StD_PUH1</text><text transform="translate(2200.3,3366) rotate(-45)">StB_PUH3</text><text transform="translate(2235.6,3366) rotate(-45)">StA_PUH1</text><text transform="translate(2270.8,3366) rotate(-45)">StA_PUH3</text><text transform="translate(2306.1,3366) rotate(-45)">StC_PUH2</text><text transform="translate(2341.4,3366) rotate(-45)">StA_PUH2</text>
</g>
</g>

<!-- Heatmap 3 -->
<g id="heatmap-CAD">
<g class="hm" transform="translate(2645,3133) scale(34.62,48.3)">
<rect x="0" y="0" width="1" height="1" fill="#fef3ec"/><rect x="1" y="0" width="1" height="1" fill="#fdb691"/><rect x="2" y="0" width="1" height="1" fill="#fe8350"/><rect x="3" y="0" width="1" height="1" fill="#fdbd9b"/><rect x="4" y="0" width="1" height="1" fill="#fdd5c0"/><rect x="5" y="0" width="1" height="1" fill="#fedccb"/><rect x="6" y="0" width="1" height="1" fill="#fee5d8"/><rect x="7" y="0" width="1" height="1" fill="#fe8350"/><rect x="8" y="0" width="1" height="1" fill="#fe8c5a"/><rect x="9" y="0" width="1" height="1" fill="#fd9f72"/><rect x="10" y="0" width="1" height="1" fill="#fe8f5e"/><rect x="11" y="0" width="1" height="1" fill="#5eaecb"/><rect x="12" y="0" width="1" height="1" fill="#5eaecb"/><rect x="13" y="0" width="1" height="1" fill="#acd2e1"/><rect x="14" y="0" width="1" height="1" fill="#fdb691"/><rect x="15" y="0" width="1" height="1" fill="#fedccb"/><rect x="16" y="0" width="1" height="1" fill="#0088ab"/><rect x="17" y="0" width="1" height="1" fill="#b3d6e3"/><rect x="18" y="0" width="1" height="1" fill="#fdfdfd"/><rect x="19" y="0" width="1" height="1" fill="#c2dfea"/><rect x="20" y="0" width="1" height="1" fill="#bcdbe6"/><rect x="21" y="0" width="1" height="1" fill="#d9eaf1"/><rect x="22" y="0" width="1" height="1" fill="#dcecf2"/><rect x="23" y="0" width="1" height="1" fill="#72b5ce"/><rect x="24" y="0" width="1" height="1" fill="#6ab1cb"/><rect x="25" y="0" width="1" height="1" fill="#40a6c5"/><rect x="26" y="0" width="1" height="1" fill="#acd2e1"/>
<rect x="0" y="1" width="1" height="1" fill="#fee3d5"/><rect x="1" y="1" width="1" height="1" fill="#fee0d2"/><rect x="2" y="1" width="1" height="1" fill="#fda074"/><rect x="3" y="1" width="1" height="1" fill="#fe8350"/><rect x="4" y="1" width="1" height="1" fill="#fe9060"/><rect x="5" y="1" width="1" height="1" fill="#fdaa82"/><rect x="6" y="1" width="1" height="1" fill="#fdbc9a"/><rect x="7" y="1" width="1" height="1" fill="#fdbd9b"/><rect x="8" y="1" width="1" height="1" fill="#fdb08a"/><rect x="9" y="1" width="1" height="1" fill="#fed5c0"/><rect x="10" y="1" width="1" height="1" fill="#fed5c0"/><rect x="11" y="1" width="1" height="1" fill="#acd2e1"/><rect x="12" y="1" width="1" height="1" fill="#bcdbe6"/><rect x="13" y="1" width="1" height="1" fill="#dcecf2"/><rect x="14" y="1" width="1" height="1" fill="#0088ab"/><rect x="15" y="1" width="1" height="1" fill="#0088ab"/><rect x="16" y="1" width="1" height="1" fill="#72b5ce"/><rect x="17" y="1" width="1" height="1" fill="#94c7da"/><rect x="18" y="1" width="1" height="1" fill="#acd2e1"/><rect x="19" y="1" width="1" height="1" fill="#a3cddf"/><rect x="20" y="1" width="1" height="1" fill="#8dc2d6"/><rect x="21" y="1" width="1" height="1" fill="#5eaecb"/><rect x="22" y="1" width="1" height="1" fill="#72b5ce"/><rect x="23" y="1" width="1" height="1" fill="#109ec0"/><rect x="24" y="1" width="1" height="1" fill="#72b5ce"/><rect x="25" y="1" width="1" height="1" fill="#6ab1cb"/><rect x="26" y="1" width="1" height="1" fill="#0088ab"/>
<rect x="0" y="2" width="1" height="1" fill="#fe8350"/><rect x="1" y="2" width="1" height="1" fill="#fdbc9a"/><rect x="2" y="2" width="1" height="1" fill="#fe8350"/><rect x="3" y="2" width="1" height="1" fill="#fda27a"/><rect x="4" y="2" width="1" height="1" fill="#fdb691"/><rect x="5" y="2" width="1" height="1" fill="#fdaf88"/><rect x="6" y="2" width="1" height="1" fill="#fee0d2"/><rect x="7" y="2" width="1" height="1" fill="#feefe8"/><rect x="8" y="2" width="1" height="1" fill="#fef8f5"/><rect x="9" y="2" width="1" height="1" fill="#d9eaf1"/><rect x="10" y="2" width="1" height="1" fill="#fddbc9"/><rect x="11" y="2" width="1" height="1" fill="#feefe8"/><rect x="12" y="2" width="1" height="1" fill="#e6f1f5"/><rect x="13" y="2" width="1" height="1" fill="#fef0e9"/><rect x="14" y="2" width="1" height="1" fill="#0088ab"/><rect x="15" y="2" width="1" height="1" fill="#0088ab"/><rect x="16" y="2" width="1" height="1" fill="#acd2e1"/><rect x="17" y="2" width="1" height="1" fill="#25a0c0"/><rect x="18" y="2" width="1" height="1" fill="#6ab1cb"/><rect x="19" y="2" width="1" height="1" fill="#5eaecb"/><rect x="20" y="2" width="1" height="1" fill="#40a6c5"/><rect x="21" y="2" width="1" height="1" fill="#4aa7c6"/><rect x="22" y="2" width="1" height="1" fill="#25a0c0"/><rect x="23" y="2" width="1" height="1" fill="#0590b3"/><rect x="24" y="2" width="1" height="1" fill="#00a0be"/><rect x="25" y="2" width="1" height="1" fill="#00a0be"/><rect x="26" y="2" width="1" height="1" fill="#0088ab"/>
<rect x="0" y="3" width="1" height="1" fill="#fe8350"/><rect x="1" y="3" width="1" height="1" fill="#fda074"/><rect x="2" y="3" width="1" height="1" fill="#fedccb"/><rect x="3" y="3" width="1" height="1" fill="#feebe1"/><rect x="4" y="3" width="1" height="1" fill="#d5e8f0"/><rect x="5" y="3" width="1" height="1" fill="#f8fbfd"/><rect x="6" y="3" width="1" height="1" fill="#bcdbe6"/><rect x="7" y="3" width="1" height="1" fill="#fed9c6"/><rect x="8" y="3" width="1" height="1" fill="#fedccb"/><rect x="9" y="3" width="1" height="1" fill="#fdbc9a"/><rect x="10" y="3" width="1" height="1" fill="#d5e8f0"/><rect x="11" y="3" width="1" height="1" fill="#fdc8aa"/><rect x="12" y="3" width="1" height="1" fill="#fdbc9a"/><rect x="13" y="3" width="1" height="1" fill="#dcecf2"/><rect x="14" y="3" width="1" height="1" fill="#6ab1cb"/><rect x="15" y="3" width="1" height="1" fill="#80bbd2"/><rect x="16" y="3" width="1" height="1" fill="#acd2e1"/><rect x="17" y="3" width="1" height="1" fill="#d5e8f0"/><rect x="18" y="3" width="1" height="1" fill="#35a3c3"/><rect x="19" y="3" width="1" height="1" fill="#72b5ce"/><rect x="20" y="3" width="1" height="1" fill="#5eaecb"/><rect x="21" y="3" width="1" height="1" fill="#a3cddf"/><rect x="22" y="3" width="1" height="1" fill="#72b5ce"/><rect x="23" y="3" width="1" height="1" fill="#40a6c5"/><rect x="24" y="3" width="1" height="1" fill="#0088ab"/><rect x="25" y="3" width="1" height="1" fill="#0088ab"/><rect x="26" y="3" width="1" height="1" fill="#0088ab"/>
</g>
<path class="dg" d="M2662.3,3129V3104H2696.9V3129 M2731.6,3129V3109H2766.2V3129 M2800.8,3129V3117H2835.4V3129 M2818.1,3117V3112H2870V3129 M2748.9,3109V3101H2844.1V3112 M2904.7,3129V3124H2939.3V3129 M2922,3124V3114H2973.9V3129 M2948,3114V3107H3008.5V3129 M2796.5,3101V3097H2978.3V3107 M2679.6,3104V3090H2887.4V3097 M3043.2,3129V3119H3077.8V3129 M3060.5,3119V3104H3112.4V3129 M3147,3129V3118H3181.6V3129 M3320.1,3129V3125H3354.8V3129 M3389.4,3129V3121H3424V3129 M3337.5,3125V3120H3406.7V3121 M3285.5,3129V3118H3372.1V3120 M3250.9,3129V3113H3328.8V3118 M3493.2,3129V3125H3527.9V3129 M3458.6,3129V3116H3510.6V3125 M3484.6,3116V3113H3562.5V3129 M3289.9,3113V3106H3523.6V3113 M3216.3,3129V3098H3406.8V3106 M3164.3,3118V3094H3311.6V3098 M3086.5,3104V3081H3238V3094 M2783.5,3090V3058H3162.3V3081"/>
<path class="dg" d="M2641,3205.5H2611V3253.8H2641 M2611,3229.7H2598V3302.1H2641 M2641,3157.2H2582V3265.9H2598"/>
<text class="rl" x="3586" y="3164" textLength="139" lengthAdjust="spacingAndGlyphs">JrCAD1-MXL.1225</text>
<text class="rl" x="3586" y="3212" textLength="157" lengthAdjust="spacingAndGlyphs">JrCAD10-MXL.25669</text>
<text class="rl" x="3586" y="3261" textLength="157" lengthAdjust="spacingAndGlyphs">JrCAD11-MXL.32854</text>
<text class="rl" x="3586" y="3309" textLength="139" lengthAdjust="spacingAndGlyphs">JrCAD4-MXL.4069</text>
<g class="cl">
<text transform="translate(2666.3,3340) rotate(-45)">StE_SCH1</text><text transform="translate(2700.9,3340) rotate(-45)">StE_SCH2</text><text transform="translate(2735.6,3340) rotate(-45)">StB_SCH1</text><text transform="translate(2770.2,3340) rotate(-45)">StC_SCH2</text><text transform="translate(2804.8,3340) rotate(-45)">StB_SCH3</text><text transform="translate(2839.4,3340) rotate(-45)">StC_SCH1</text><text transform="translate(2874,3340) rotate(-45)">StB_SCH2</text><text transform="translate(2908.7,3340) rotate(-45)">StD_SCH3</text><text transform="translate(2943.3,3340) rotate(-45)">StD_SCH2</text><text transform="translate(2977.9,3340) rotate(-45)">StD_SCH1</text><text transform="translate(3012.5,3340) rotate(-45)">StC_SCH3</text><text transform="translate(3047.2,3340) rotate(-45)">StE_PUH3</text><text transform="translate(3081.8,3340) rotate(-45)">StE_PUH1</text><text transform="translate(3116.4,3340) rotate(-45)">StE_SCH3</text><text transform="translate(3151,3340) rotate(-45)">StA_PUH3</text><text transform="translate(3185.6,3340) rotate(-45)">StA_PUH2</text><text transform="translate(3220.3,3340) rotate(-45)">StE_PUH2</text><text transform="translate(3254.9,3340) rotate(-45)">StB_PUH1</text><text transform="translate(3289.5,3340) rotate(-45)">StD_PUH2</text><text transform="translate(3324.1,3340) rotate(-45)">StD_PUH1</text><text transform="translate(3358.8,3340) rotate(-45)">StD_PUH3</text><text transform="translate(3393.4,3340) rotate(-45)">StB_PUH2</text><text transform="translate(3428,3340) rotate(-45)">StB_PUH3</text><text transform="translate(3462.6,3340) rotate(-45)">StC_PUH2</text><text transform="translate(3497.2,3340) rotate(-45)">StC_PUH3</text><text transform="translate(3531.9,3340) rotate(-45)">StC_PUH1</text><text transform="translate(3566.5,3340) rotate(-45)">StA_PUH1</text>
</g>
</g>

<g id="colorbar">
<rect x="3799" y="3074" width="36" height="279" fill="url(#gCB)"/>
<path d="M3799,3080H3805M3829,3080H3835M3799,3347H3805M3829,3347H3835" stroke="#fff" stroke-width="2"/>
<text class="rl" x="3840" y="3091" font-size="24" style="font-size:24px">1</text>
<text class="rl" x="3840" y="3224" style="font-size:24px">0.5</text>
<text class="rl" x="3840" y="3358" style="font-size:24px">0</text>
<text class="rl" transform="translate(3789,3126) rotate(-90)" style="font-size:12px;text-anchor:middle" textLength="106" lengthAdjust="spacingAndGlyphs">Expression (FPKM)</text>
</g>
</svg>
